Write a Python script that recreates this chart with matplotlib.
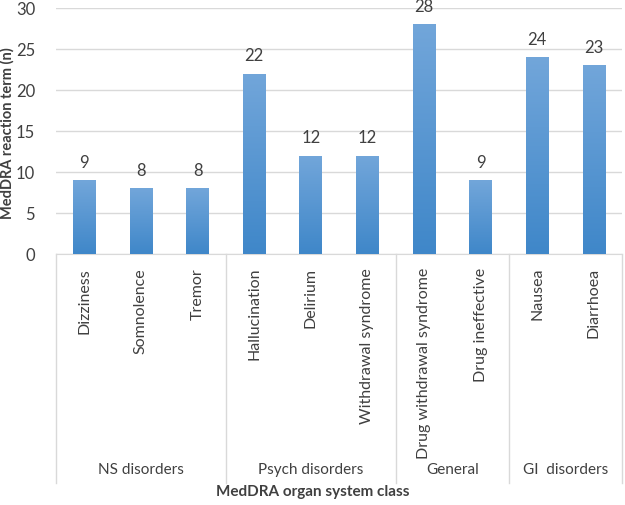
import matplotlib.pyplot as plt
import matplotlib.transforms as mtransforms
from matplotlib.colors import LinearSegmentedColormap
import numpy as np

# data
terms = ["Dizziness", "Somnolence", "Tremor", "Hallucination", "Delirium",
         "Withdrawal syndrome", "Drug withdrawal syndrome", "Drug ineffective",
         "Nausea", "Diarrhoea"]
counts = [9, 8, 8, 22, 12, 12, 28, 9, 24, 23]
groups = ["NS disorders", "Psych disorders", "General", "GI  disorders"]
group_sizes = [3, 3, 2, 2]

plt.rcParams["font.family"] = ["Lato", "DejaVu Sans"]
text_col = "#404040"
grid_col = "#d9d9d9"

fig = plt.figure(figsize=(6.25, 5.05), dpi=100)
ax = fig.add_axes([0.0896, 0.497, 0.906, 0.487])

x = np.arange(len(terms))
bars = ax.bar(x, counts, width=0.4, color="#5b9bd5", zorder=2)

# vertical gradient inside each bar (lighter at top)
grad = np.linspace(0, 1, 256).reshape(-1, 1)
cmap = LinearSegmentedColormap.from_list("bar", ["#3f87c9", "#72a6da"])
for b in bars:
    x0, y0 = b.get_x(), b.get_y()
    w, h = b.get_width(), b.get_height()
    im = ax.imshow(grad, cmap=cmap, aspect="auto", origin="lower",
                   extent=[x0, x0 + w, y0, y0 + h], zorder=3)
    im.set_clip_path(b)

for xi, v in zip(x, counts):
    ax.annotate(str(v), (xi, v), xytext=(0, 7), textcoords="offset points",
                ha="center", va="bottom", fontsize=12, color=text_col)

ax.set_xlim(-0.5, len(terms) - 0.5)
ax.set_ylim(0, 30)
ax.set_yticks(np.arange(0, 31, 5))
ax.yaxis.grid(True, color=grid_col, linewidth=1)
ax.set_axisbelow(True)
for s in ["top", "right", "left"]:
    ax.spines[s].set_visible(False)
ax.spines["bottom"].set_color(grid_col)
ax.tick_params(axis="y", length=0, labelsize=12, labelcolor=text_col, pad=15)
ax.set_xticks(x)
ax.set_xticklabels(terms, rotation=90, va="top")
ax.tick_params(axis="x", length=0, labelsize=11.5, labelcolor=text_col, pad=10)

# group separators and labels below the axis
trans = mtransforms.blended_transform_factory(ax.transData, ax.transAxes)
edges = np.concatenate([[0], np.cumsum(group_sizes)]) - 0.5
for e in edges:
    ax.plot([e, e], [0, -0.93], color=grid_col, linewidth=1,
            transform=trans, clip_on=False)
for g, a, b in zip(groups, edges[:-1], edges[1:]):
    ax.text((a + b) / 2, -0.88, g, transform=trans, ha="center", va="center",
            fontsize=11, color=text_col)

ax.set_ylabel("MedDRA reaction term (n)", fontsize=10.5, fontweight="bold",
              color=text_col)
ax.yaxis.set_label_coords(-0.074, 0.49)
fig.text(0.5, 0.026, "MedDRA organ system class", ha="center", va="center",
         fontsize=11, fontweight="bold", color=text_col)

plt.savefig("out.png")
plt.close()
